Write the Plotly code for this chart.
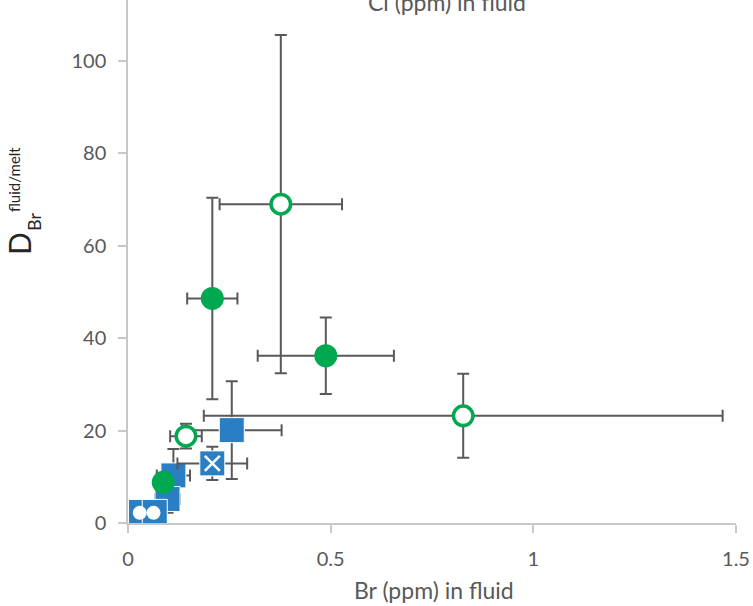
import plotly.graph_objects as go

# ---- data ----
# blue squares
sq_x = [0.256, 0.112, 0.0975, 0.032, 0.066]
sq_y = [20.1, 10.3, 5.2, 2.4, 2.4]
sq_xerr = [0.123, 0.041, 0.03, 0.01, 0.01]
sq_yerr = [10.6, 5.7, 3.0, 0.5, 0.5]

# blue square with white cross
xs_x = [0.208]
xs_y = [12.9]
xs_xerr = [0.086]
xs_yerr = [3.6]

# white circles over the lowest squares
wc_x = [0.029, 0.063]
wc_y = [2.2, 2.2]

# green open circles
open_x = [0.377, 0.827, 0.143]
open_y = [69.0, 23.2, 18.8]
open_xerr = [0.151, 0.64, 0.039]
open_yerr = [36.6, 9.1, 2.7]

# green filled circles
fill_x = [0.208, 0.488, 0.087]
fill_y = [48.6, 36.2, 8.8]
fill_xerr = [0.062, 0.168, 0.02]
fill_yerr = [21.8, 8.3, 2.0]

x_ticks = [0, 0.5, 1, 1.5]
x_ticklabels = ["0", "0.5", "1", "1.5"]
y_ticks = [0, 20, 40, 60, 80, 100]

BLUE = "#2A7FC4"
GREEN = "#00A84F"
ERR = "#595959"
FONT = "Lato"

def eb(vals):
    return dict(type="data", array=vals, symmetric=True, color=ERR, thickness=2, width=6)

fig = go.Figure()

fig.add_trace(go.Scatter(x=sq_x, y=sq_y, mode="markers", cliponaxis=False,
                         error_x=eb(sq_xerr), error_y=eb(sq_yerr),
                         marker=dict(symbol="square", size=25, color=BLUE,
                                     line=dict(color="white", width=1))))
fig.add_trace(go.Scatter(x=xs_x, y=xs_y, mode="markers", cliponaxis=False,
                         error_x=eb(xs_xerr), error_y=eb(xs_yerr),
                         marker=dict(symbol="square", size=25, color=BLUE,
                                     line=dict(color="white", width=1))))
fig.add_trace(go.Scatter(x=xs_x, y=xs_y, mode="markers", cliponaxis=False,
                         marker=dict(symbol="x-thin", size=15,
                                     line=dict(color="white", width=2.5))))
fig.add_trace(go.Scatter(x=wc_x, y=wc_y, mode="markers", cliponaxis=False,
                         marker=dict(symbol="circle", size=14, color="white")))
fig.add_trace(go.Scatter(x=open_x, y=open_y, mode="markers", cliponaxis=False,
                         error_x=eb(open_xerr), error_y=eb(open_yerr),
                         marker=dict(symbol="circle", size=19.5, color="white",
                                     line=dict(color=GREEN, width=3.5))))
fig.add_trace(go.Scatter(x=fill_x, y=fill_y, mode="markers", cliponaxis=False,
                         error_x=eb(fill_xerr), error_y=eb(fill_yerr),
                         marker=dict(symbol="circle", size=23, color=GREEN)))

L, R, T, B = 128, 17, 0, 83
W, H = 753, 606
pw, ph = W - L - R, H - T - B

def px(xp):
    return (xp - L) / pw

def py(yp):
    return (H - B - yp) / ph

ann = [
    dict(text="Br (ppm) in fluid", x=px(434), y=py(590), font=dict(size=23, color="#595959")),
    dict(text="Cl (ppm) in fluid", x=px(447), y=py(2), font=dict(size=23, color="#595959")),
    dict(text="D", x=px(19), y=py(244), textangle=-90, font=dict(size=30, color="#262626")),
    dict(text="Br", x=px(34), y=py(222), textangle=-90, font=dict(size=18, color="#262626")),
    dict(text="fluid/melt", x=px(14), y=py(180), textangle=-90, font=dict(size=15, color="#262626")),
]
for a in ann:
    a.update(xref="paper", yref="paper", showarrow=False, xanchor="center", yanchor="middle")

fig.update_layout(
    width=W, height=H,
    margin=dict(l=L, r=R, t=T, b=B),
    paper_bgcolor="white", plot_bgcolor="white",
    showlegend=False,
    font=dict(family=FONT, size=20, color="#595959"),
    annotations=ann,
    xaxis=dict(range=[0, 1.5], tickvals=x_ticks, ticktext=x_ticklabels,
               showgrid=False, zeroline=False, showline=True, linecolor="#C8C8C8", linewidth=1.5,
               ticks="outside", ticklen=8, tickcolor="#C8C8C8", tickwidth=1.5,
               ticklabelstandoff=9),
    yaxis=dict(range=[0, 113.2], tickvals=y_ticks,
               showgrid=False, zeroline=False, showline=True, linecolor="#C8C8C8", linewidth=1.5,
               ticks="outside", ticklen=8, tickcolor="#C8C8C8", tickwidth=1.5,
               ticklabelstandoff=8),
)

fig.write_html("out.html")
